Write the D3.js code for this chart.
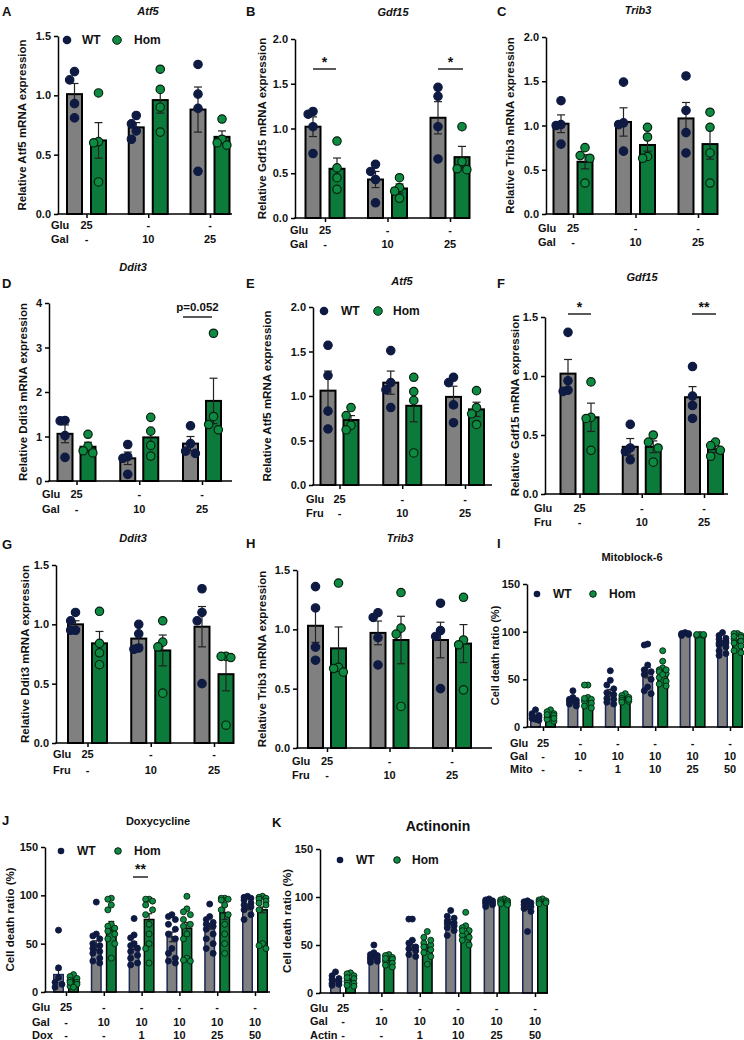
<!DOCTYPE html>
<html><head><meta charset="utf-8">
<script src="https://cdn.jsdelivr.net/npm/d3@7"></script>
<style>
body{margin:0;background:#fff}
svg{display:block}
text{font-family:"Liberation Sans",Arial,Helvetica,sans-serif;font-weight:bold;fill:#111}
</style>
</head><body>
<svg id="fig" width="744" height="1040"></svg>
<script>
// ---------------- DATA ----------------
const gluRow3 = ["25","-","-"];
const galRow3 = ["-","10","25"];
const fruRow3 = ["-","10","25"];
const gluRow6 = ["25","-","-","-","-","-"];
const galRow6 = ["-","10","10","10","10","10"];
const drugRow6 = ["-","-","1","10","25","50"];
const seriesNames = ["WT","Hom"];

// A  Atf5 (Glu/Gal)
const aWtMean=[1.01,0.73,0.88], aWtSem=[0.09,0.04,0.19];
const aHomMean=[0.62,0.96,0.65], aHomSem=[0.15,0.11,0.05];
const aWtPts=[[1.20,1.13,0.93,0.81],[0.83,0.76,0.70,0.63],[1.26,1.01,0.89,0.36]];
const aHomPts=[[1.02,0.61,0.60,0.27],[1.22,1.05,0.90,0.69],[0.80,0.63,0.60,0.58]];
// B  Gdf15 (Glu/Gal)
const bWtMean=[1.02,0.43,1.12], bWtSem=[0.11,0.09,0.18];
const bHomMean=[0.55,0.33,0.68], bHomSem=[0.12,0.05,0.12];
const bWtPts=[[1.19,1.16,1.02,0.72],[0.60,0.52,0.43,0.17],[1.46,1.36,1.02,0.66]];
const bHomPts=[[0.86,0.56,0.45,0.32],[0.45,0.34,0.30,0.22],[1.02,0.63,0.55,0.54]];
// C  Trib3 (Glu/Gal)
const cWtMean=[1.02,1.04,1.08], cWtSem=[0.10,0.16,0.18];
const cHomMean=[0.59,0.78,0.79], cHomSem=[0.08,0.07,0.17];
const cWtPts=[[1.28,1.01,1.00,0.79],[1.49,1.03,1.01,0.71],[1.56,1.17,0.92,0.69]];
const cHomPts=[[0.75,0.66,0.63,0.35],[0.98,0.87,0.65,0.63],[1.15,0.98,0.69,0.35]];
// D  Ddit3 (Glu/Gal)
const dWtMean=[1.06,0.51,0.84], dWtSem=[0.20,0.14,0.16];
const dHomMean=[0.77,0.98,1.80], dHomSem=[0.10,0.17,0.51];
const dWtPts=[[1.35,1.36,1.02,0.53],[0.82,0.55,0.51,0.15],[1.24,0.84,0.67,0.62]];
const dHomPts=[[1.05,0.78,0.68,0.63],[1.43,1.12,0.80,0.56],[3.32,1.45,1.27,1.15]];
// E  Atf5 (Glu/Fru)
const eWtMean=[1.06,1.15,0.99], eWtSem=[0.22,0.13,0.12];
const eHomMean=[0.73,0.89,0.85], eHomSem=[0.05,0.18,0.08];
const eWtPts=[[1.57,1.23,0.83,0.63],[1.51,1.15,1.07,0.87],[1.21,1.15,0.90,0.70]];
const eHomPts=[[0.87,0.78,0.67,0.62],[1.21,1.05,0.95,0.36],[1.06,0.87,0.80,0.68]];
// F  Gdf15 (Glu/Fru)
const fWtMean=[1.02,0.40,0.82], fWtSem=[0.12,0.07,0.09];
const fHomMean=[0.65,0.40,0.38], fHomSem=[0.12,0.05,0.03];
const fWtPts=[[1.37,0.96,0.88,0.87],[0.59,0.39,0.36,0.29],[1.08,0.83,0.75,0.64]];
const fHomPts=[[0.95,0.65,0.64,0.37],[0.50,0.44,0.39,0.27],[0.44,0.41,0.37,0.32]];
// G  Ddit3 (Glu/Fru)
const gWtMean=[1.00,0.88,0.98], gWtSem=[0.03,0.05,0.17];
const gHomMean=[0.84,0.78,0.58], gHomSem=[0.10,0.13,0.14];
const gWtPts=[[1.10,1.03,0.95,0.95],[1.00,0.92,0.80,0.79],[1.30,1.10,1.03,0.50]];
const gHomPts=[[1.11,0.84,0.76,0.66],[1.03,0.85,0.81,0.42],[0.73,0.72,0.73,0.15]];
// H  Trib3 (Glu/Fru)
const hWtMean=[1.03,0.97,0.91], hWtSem=[0.14,0.10,0.15];
const hHomMean=[0.84,0.91,0.88], hHomSem=[0.18,0.20,0.16];
const hWtPts=[[1.36,1.18,0.85,0.74],[1.14,1.10,0.93,0.70],[1.22,0.99,0.94,0.50]];
const hHomPts=[[1.39,0.68,0.67,0.64],[1.31,1.01,0.96,0.35],[1.27,0.91,0.87,0.49]];
// I  Mitoblock-6
const iWtMean=[11,27,36,57,97,88], iWtSem=[1.5,2,3.5,5.5,0.5,2.5];
const iHomMean=[12,29,30,57,96,90], iHomSem=[1.5,2.5,1,3.5,0.5,2];
const iWtPts=[[18,14,12,10,9,8,7,12],[38,31,29,27,25,24,22,28],[59,49,44,40,36,34,30,26,24,29],
  [87,86,65,60,58,55,50,42,38,35],[99,98,97,96,97,98],[99,96,93,90,88,86,84,80,77,75,88,92]];
const iHomPts=[[18,16,14,12,10,8,6,9,13],[44,44,31,29,27,25,22,20,30],[35,33,31,30,28,27,29,26],
  [80,69,62,60,58,56,52,48,45,43,55,60],[97,96,97,96,97],[98,98,96,94,92,90,88,85,80,78,95]];
// J  Doxycycline
const jWtMean=[18,48,48,57,68,88], jWtSem=[5,5,4,5,3,3];
const jHomMean=[12,68,75,66,82,85], jHomSem=[2,5,6,6,7,3];
const jWtPts=[[64,25,15,10,8,5],[93,60,58,55,50,48,45,40,35,30,32,42],[76,59,56,50,48,45,42,38,35,28,30],
  [80,78,75,70,65,60,55,45,40,35,32,30],[91,78,75,72,70,68,65,60,55,50,45,40],[99,98,97,95,92,90,88,85,80,75]];
const jHomPts=[[18,16,14,12,10,8,6,5,10],[97,96,90,85,70,68,66,63,60,55,50,35],[96,96,94,90,80,70,60,50,45,30,85],
  [99,86,83,80,75,68,60,55,35,33,32,70],[97,97,96,95,90,85,80,70,60,50,40],[99,98,97,96,94,92,90,85,50,45,48]];
// K  Actinonin
const kWtMean=[13,38,50,74,95,90], kWtSem=[1.5,2,5,3,0.5,3];
const kHomMean=[14,34,47,62,94,95], kHomSem=[1.5,1.5,3.5,3,0.5,0.6];
const kWtPts=[[22,18,15,12,10,8,14,9],[50,42,39,37,36,35,33,32,40],[77,77,55,52,48,46,44,40,38],
  [86,80,78,75,73,70,68,65,60,72],[98,97,96,95,94,93,92,90],[96,95,94,92,90,88,85,64]];
const kHomPts=[[21,20,18,15,12,10,8,7,16],[40,39,37,35,33,31,29,27,36],[64,58,52,50,48,45,42,38,30,55],
  [84,70,68,65,62,60,58,55,50,65],[98,97,96,95,94,93,92],[98,97,96,95,94,93]];

// ---------------- STYLE ----------------
const C = {gray:"#808080", green:"#0b7a3b", wtDot:"#0e1a42", homDot:"#0f8a43", ink:"#111"};
const svg = d3.select("#fig");

function swarm(vals, y, r, maxOff){
  const placed=[], res=new Array(vals.length);
  const step=r*1.15, cands=[0];
  for(let k=1;k*step<=maxOff+0.01;k++){cands.push(-k*step,k*step);}
  const order=vals.map((v,i)=>i).sort((a,b)=>vals[b]-vals[a]);
  order.forEach(i=>{
    const py=y(vals[i]); let best=0,bs=Infinity;
    for(const c of cands){
      let s=0; for(const p of placed){const d=Math.hypot(c-p.dx,py-p.y); if(d<2*r) s+=2*r-d;}
      if(s<bs-1e-6){bs=s;best=c;} if(s===0)break;
    }
    placed.push({dx:best,y:py}); res[i]=best;
  });
  return res;
}

function txt(g,x,y,s,o={}){
  const t=g.append("text").attr("x",x).attr("y",y).attr("dy","0.35em").text(s)
    .attr("font-size",o.size||11).attr("text-anchor",o.anchor||"middle");
  if(o.italic) t.attr("font-style","italic");
  return t;
}

function panel(p){
  const g=svg.append("g");
  const y=d3.scaleLinear().domain([0,p.max]).range([p.y0,p.yTop]);
  const x=d3.scalePoint().domain(d3.range(p.n)).range([p.c0,p.c1]);
  const big=p.n===3;
  const r=big?4.2:3;
  const sw=big?2:1.5;
  const series=[
    {mean:p.wm,sem:p.ws,pts:p.wp,fill:C.gray,stroke:big?"#000":"#1b2656",dot:C.wtDot,dotStroke:C.wtDot,off:-p.off},
    {mean:p.hm,sem:p.hs,pts:p.hp,fill:C.green,stroke:"#000",dot:C.homDot,dotStroke:"#06200f",off:p.off}
  ];
  series.forEach(s=>{
    g.selectAll(null).data(s.mean).enter().append("rect")
      .attr("x",(d,i)=>x(i)+s.off-p.bw/2).attr("width",p.bw)
      .attr("y",d=>y(d)).attr("height",d=>p.y0-y(d))
      .attr("fill",s.fill).attr("stroke",s.stroke).attr("stroke-width",sw);
  });
  series.forEach(s=>{
    s.mean.forEach((m,i)=>{
      const cx=x(i)+s.off, cw=big?4:3;
      const eg=g.append("g").attr("stroke","#222").attr("stroke-width",1.2);
      eg.append("line").attr("x1",cx).attr("x2",cx).attr("y1",y(m-s.sem[i])).attr("y2",y(m+s.sem[i]));
      eg.append("line").attr("x1",cx-cw).attr("x2",cx+cw).attr("y1",y(m+s.sem[i])).attr("y2",y(m+s.sem[i]));
      eg.append("line").attr("x1",cx-cw).attr("x2",cx+cw).attr("y1",y(m-s.sem[i])).attr("y2",y(m-s.sem[i]));
    });
  });
  series.forEach(s=>{
    s.pts.forEach((arr,i)=>{
      const offs=swarm(arr,y,r,p.bw/2-1);
      g.selectAll(null).data(arr).enter().append("circle")
        .attr("cx",(d,k)=>x(i)+s.off+offs[k]).attr("cy",d=>y(d)).attr("r",r)
        .attr("fill",s.dot).attr("stroke",s.dotStroke).attr("stroke-width",big?1.2:0.9);
    });
  });
  const ya=g.append("g").attr("transform",`translate(${p.ax},0)`)
    .call(d3.axisLeft(y).tickValues(p.ticks).tickFormat(p.fmt).tickSize(4).tickPadding(3).tickSizeOuter(0));
  ya.attr("font-family",null).attr("font-size",null);
  ya.selectAll("path,line").attr("stroke","#000").attr("stroke-width",1.5);
  ya.selectAll("text").attr("font-size",11).attr("fill",C.ink);
  g.append("line").attr("x1",p.ax-0.75).attr("x2",p.xEnd).attr("y1",p.y0).attr("y2",p.y0)
    .attr("stroke","#000").attr("stroke-width",1.5);
  const xa=g.append("g").attr("transform",`translate(0,${p.y0})`)
    .call(d3.axisBottom(x).tickSize(4).tickFormat("").tickSizeOuter(0));
  xa.select(".domain").remove();
  xa.selectAll("line").attr("stroke","#000").attr("stroke-width",1.5);
  p.rows.forEach((row,ri)=>{
    txt(g,p.lx,p.rowY[ri],row.label,{anchor:"start"});
    row.vals.forEach((v,i)=>txt(g,x(i),p.rowY[ri],v));
  });
  g.append("text").attr("transform",`translate(${p.ylx},${(p.y0+p.yTop)/2}) rotate(-90)`)
    .attr("text-anchor","middle").attr("dy","0.35em").attr("font-size",p.ylsize||11.5).text(p.ylab);
  txt(g,p.tx,p.ty,p.title,{italic:p.italic,size:p.tsize||11});
  txt(g,p.Lx,p.Ly,p.letter,{anchor:"start",size:13});
  if(p.leg){
    const [ly,d1,t1,d2,t2]=p.leg;
    g.append("circle").attr("cx",d1).attr("cy",ly).attr("r",big?4.3:3.3).attr("fill",C.wtDot);
    txt(g,t1,ly,seriesNames[0],{anchor:"start",size:12});
    g.append("circle").attr("cx",d2).attr("cy",ly).attr("r",big?4.3:3.3).attr("fill",C.homDot).attr("stroke","#06200f").attr("stroke-width",1);
    txt(g,t2,ly,seriesNames[1],{anchor:"start",size:12});
  }
  (p.sig||[]).forEach(s=>{
    g.append("line").attr("x1",s.x1).attr("x2",s.x2).attr("y1",s.y).attr("y2",s.y).attr("stroke","#000").attr("stroke-width",1.3);
    txt(g,(s.x1+s.x2)/2,s.ty,s.t,{size:s.size||14});
  });
}

const f1=d3.format(".1f"), f0=d3.format("d");
const rowsGal=[{label:"Glu",vals:gluRow3},{label:"Gal",vals:galRow3}];
const rowsFru=[{label:"Glu",vals:gluRow3},{label:"Fru",vals:fruRow3}];

panel({n:3,max:1.5,ticks:[0,0.5,1,1.5],fmt:f1,ax:58,yTop:36,y0:214,xEnd:232,c0:86.5,c1:210,off:12,bw:15,
  wm:aWtMean,ws:aWtSem,hm:aHomMean,hs:aHomSem,wp:aWtPts,hp:aHomPts,rows:rowsGal,rowY:[225,239],lx:51,
  ylx:22,ylab:"Relative Atf5 mRNA expression",title:"Atf5",italic:true,tx:148,ty:11,letter:"A",Lx:2,Ly:11,
  leg:[40,67,82,117,134]});
panel({n:3,max:2,ticks:[0,0.5,1,1.5,2],fmt:f1,ax:295,yTop:39,y0:218,xEnd:470,c0:325,c1:450,off:12,bw:15,
  wm:bWtMean,ws:bWtSem,hm:bHomMean,hs:bHomSem,wp:bWtPts,hp:bHomPts,rows:rowsGal,rowY:[230,244],lx:290,
  ylx:262,ylab:"Relative Gdf15 mRNA expression",title:"Gdf15",italic:true,tx:393,ty:12,letter:"B",Lx:246,Ly:11,
  sig:[{x1:313,x2:336,y:69,t:"*",ty:62},{x1:438,x2:463,y:69,t:"*",ty:62}]});
panel({n:3,max:2,ticks:[0,0.5,1,1.5,2],fmt:f1,ax:546,yTop:37,y0:214,xEnd:717,c0:573,c1:698,off:12,bw:15,
  wm:cWtMean,ws:cWtSem,hm:cHomMean,hs:cHomSem,wp:cWtPts,hp:cHomPts,rows:rowsGal,rowY:[228,242],lx:538,
  ylx:510,ylab:"Relative Trib3 mRNA expression",title:"Trib3",italic:true,tx:638,ty:10,letter:"C",Lx:497,Ly:11});
panel({n:3,max:4,ticks:[0,1,2,3,4],fmt:f0,ax:49,yTop:303,y0:481,xEnd:232,c0:76.5,c1:202,off:11.5,bw:15,
  wm:dWtMean,ws:dWtSem,hm:dHomMean,hs:dHomSem,wp:dWtPts,hp:dHomPts,rows:rowsGal,rowY:[494,509],lx:42,
  ylx:23,ylab:"Relative Ddit3 mRNA expression",title:"Ddit3",italic:true,tx:133,ty:267,letter:"D",Lx:2,Ly:283,
  sig:[{x1:183,x2:212,y:317,t:"p=0.052",ty:307,size:11.5}]});
panel({n:3,max:2,ticks:[0,0.5,1,1.5,2],fmt:f1,ax:313,yTop:307,y0:485,xEnd:492,c0:339.5,c1:465,off:11.5,bw:15,
  wm:eWtMean,ws:eWtSem,hm:eHomMean,hs:eHomSem,wp:eWtPts,hp:eHomPts,rows:rowsFru,rowY:[499,513],lx:306,
  ylx:267,ylab:"Relative Atf5 mRNA expression",title:"Atf5",italic:true,tx:402,ty:281,letter:"E",Lx:246,Ly:283,
  leg:[311,324,341,378,393]});
panel({n:3,max:1.5,ticks:[0,0.5,1,1.5],fmt:f1,ax:545,yTop:317,y0:494,xEnd:728,c0:579.5,c1:704,off:11.5,bw:15,
  wm:fWtMean,ws:fWtSem,hm:fHomMean,hs:fHomSem,wp:fWtPts,hp:fHomPts,rows:rowsFru,rowY:[508,522],lx:534,
  ylx:515,ylab:"Relative Gdf15 mRNA expression",title:"Gdf15",italic:true,tx:642,ty:277,letter:"F",Lx:497,Ly:283,
  sig:[{x1:568,x2:591,y:314,t:"*",ty:307},{x1:692,x2:716,y:314,t:"**",ty:307}]});
panel({n:3,max:1.5,ticks:[0,0.5,1,1.5],fmt:f1,ax:56,yTop:565,y0:743,xEnd:233,c0:87.5,c1:214,off:12,bw:15,
  wm:gWtMean,ws:gWtSem,hm:gHomMean,hs:gHomSem,wp:gWtPts,hp:gHomPts,rows:rowsFru,rowY:[754,770],lx:53,
  ylx:25,ylab:"Relative Ddit3 mRNA expression",title:"Ddit3",italic:true,tx:133,ty:538,letter:"G",Lx:2,Ly:544});
panel({n:3,max:1.5,ticks:[0,0.5,1,1.5],fmt:f1,ax:297,yTop:570,y0:748,xEnd:492,c0:327,c1:452,off:11.5,bw:15,
  wm:hWtMean,ws:hWtSem,hm:hHomMean,hs:hHomSem,wp:hWtPts,hp:hHomPts,rows:rowsFru,rowY:[761,775],lx:292,
  ylx:262,ylab:"Relative Trib3 mRNA expression",title:"Trib3",italic:true,tx:400,ty:538,letter:"H",Lx:246,Ly:543});
panel({n:6,max:150,ticks:[0,50,100,150],fmt:f0,ax:527,yTop:584,y0:727,xEnd:743,c0:543,c1:730,off:7.5,bw:9.5,
  wm:iWtMean,ws:iWtSem,hm:iHomMean,hs:iHomSem,wp:iWtPts,hp:iHomPts,
  rows:[{label:"Glu",vals:gluRow6},{label:"Gal",vals:galRow6},{label:"Mito",vals:drugRow6}],rowY:[743,756,769],lx:510,
  ylx:495,ylsize:11,ylab:"Cell death ratio (%)",title:"Mitoblock-6",italic:false,tx:632,ty:557,letter:"I",Lx:497,Ly:543,
  leg:[594,537,553,593,609]});
panel({n:6,max:150,ticks:[0,50,100,150],fmt:f0,ax:45,yTop:847,y0:992,xEnd:270,c0:66,c1:255,off:7.5,bw:9.5,
  wm:jWtMean,ws:jWtSem,hm:jHomMean,hs:jHomSem,wp:jWtPts,hp:jHomPts,
  rows:[{label:"Glu",vals:gluRow6},{label:"Gal",vals:galRow6},{label:"Dox",vals:drugRow6}],rowY:[1007,1022,1035],lx:32,
  ylx:10,ylab:"Cell death ratio (%)",title:"Doxycycline",italic:false,tx:158,ty:821,letter:"J",Lx:2,Ly:820,
  leg:[851,61,77,118,134],sig:[{x1:133,x2:148,y:877,t:"**",ty:869}]});
panel({n:6,max:150,ticks:[0,50,100,150],fmt:f0,ax:320,yTop:849,y0:993,xEnd:548,c0:343,c1:535,off:7.5,bw:9.5,
  wm:kWtMean,ws:kWtSem,hm:kHomMean,hs:kHomSem,wp:kWtPts,hp:kHomPts,
  rows:[{label:"Glu",vals:gluRow6},{label:"Gal",vals:galRow6},{label:"Actin",vals:drugRow6}],rowY:[1008,1021,1035],lx:310,
  ylx:287,ylab:"Cell death ratio (%)",title:"Actinonin",italic:false,tx:438,ty:826,tsize:14,letter:"K",Lx:272,Ly:822,
  leg:[860,340,356,397,412]});
</script>
</body></html>
